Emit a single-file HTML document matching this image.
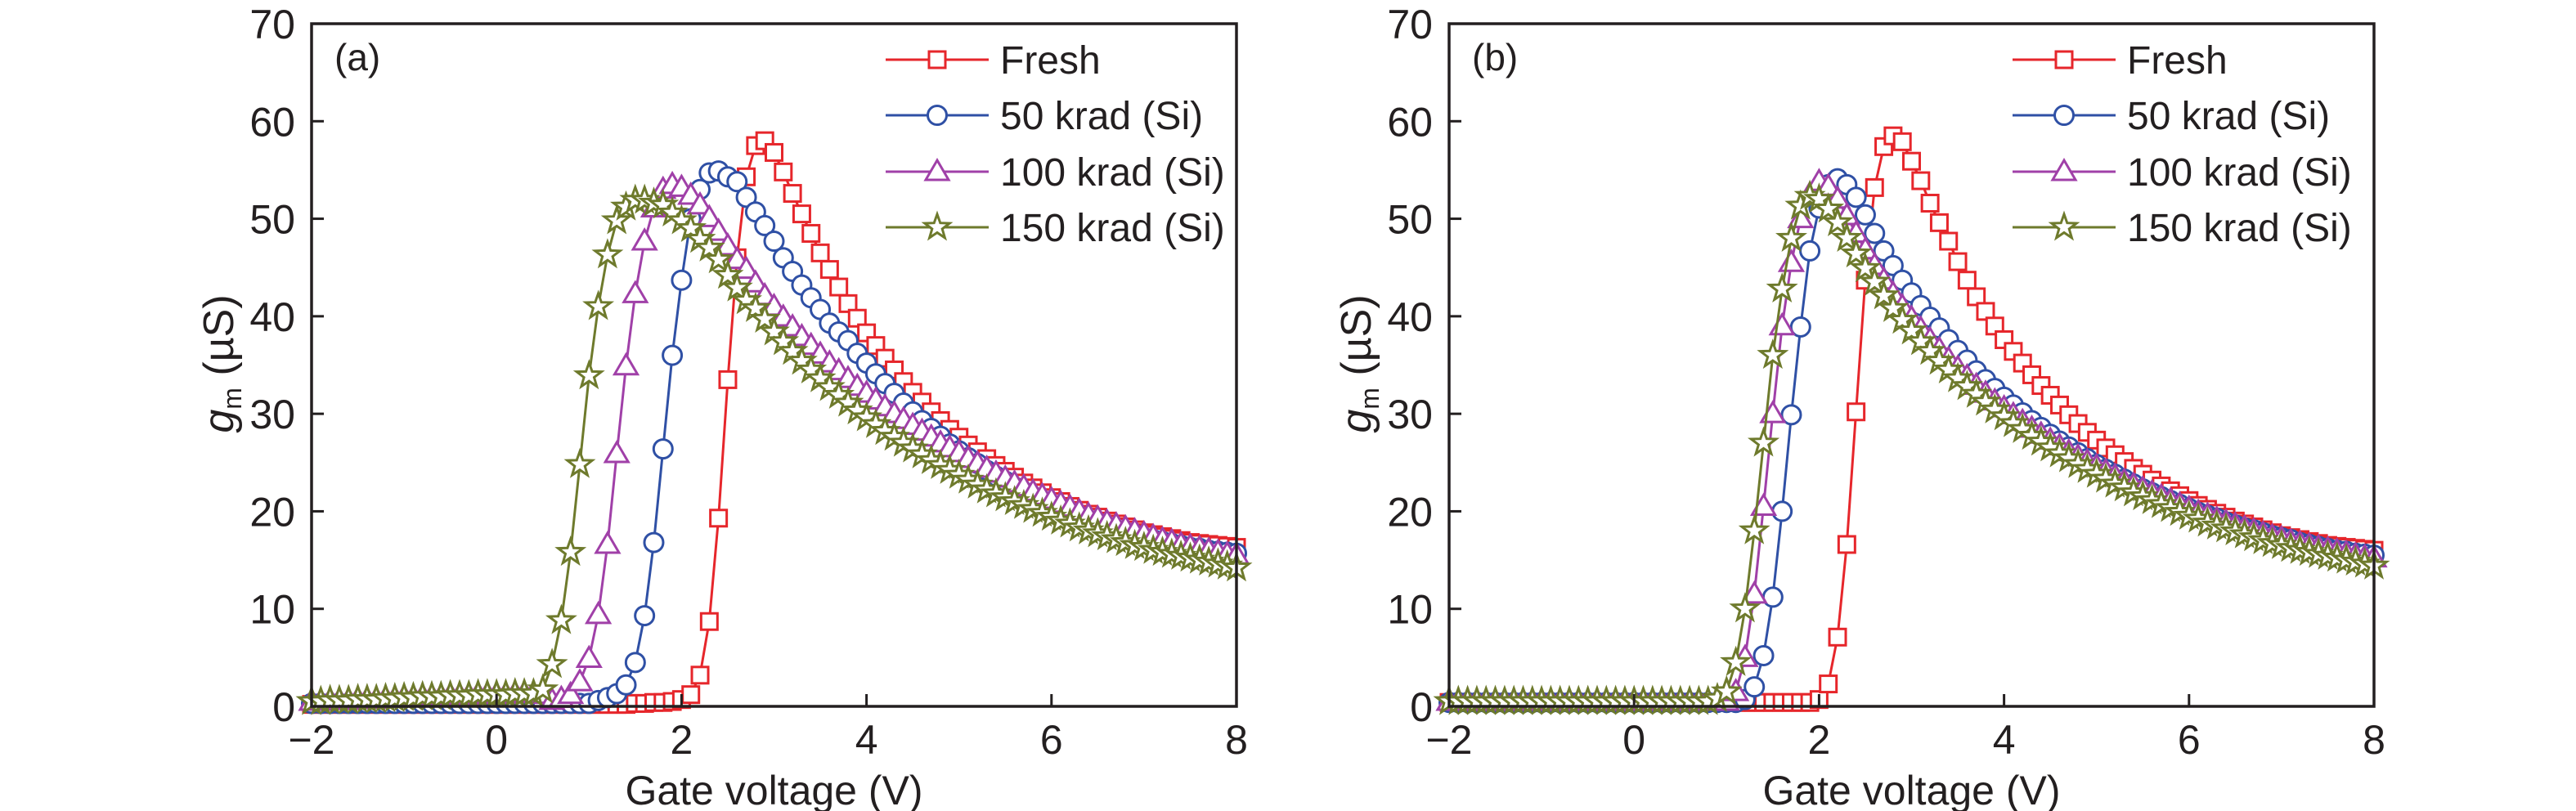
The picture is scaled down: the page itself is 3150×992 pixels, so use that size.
<!DOCTYPE html>
<html><head><meta charset="utf-8"><style>
html,body{margin:0;padding:0;background:#fff;}
svg{display:block;font-family:"Liberation Sans",sans-serif;}
</style></head><body>
<svg id="chart" width="3150" height="992" viewBox="0 0 3150 992" xmlns="http://www.w3.org/2000/svg"></svg>
<script>
const xTicks=[-2,0,2,4,6,8];
const yTicks=[0,10,20,30,40,50,60,70];
const seriesNames=["Fresh","50 krad (Si)","100 krad (Si)","150 krad (Si)"];
const TAIL_F=[37.0,35.7,34.5,33.3,32.2,31.2,30.2,29.3,28.4,27.6,26.8,26.1,25.4,24.7,24.1,23.5,22.9,22.4,21.9,21.4,21.0,20.5,20.1,19.7,19.4,19.0,18.7,18.4,18.1,17.8,17.6,17.4,17.2,17.0,16.8,16.7,16.6,16.5,16.4,16.3];
const freshA=[0.2,0.2,0.2,0.2,0.2,0.2,0.2,0.2,0.2,0.2,0.2,0.2,0.2,0.2,0.2,0.2,0.2,0.2,0.2,0.2,0.2,0.2,0.2,0.2,0.2,0.2,0.2,0.2,0.2,0.2,0.2,0.2,0.2,0.2,0.2,
0.3,0.3,0.4,0.4,0.5,0.7,1.2,3.2,8.7,19.3,33.5,46,54.3,57.5,58.0,56.8,54.8,52.6,50.5,48.5,46.5,44.8,43.0,41.3,39.8,38.3,
37.0,35.7,34.5,33.3,32.2,31.2,30.2,29.3,28.4,27.6,26.8,26.1,25.4,24.7,24.1,23.5,22.9,22.4,21.9,21.4,21.0,20.5,20.1,19.7,19.4,19.0,18.7,18.4,18.1,17.8,17.6,17.4,17.2,17.0,16.8,16.7,16.6,16.5,16.4,16.3];
const k50A=[0.3,0.3,0.3,0.3,0.3,0.3,0.3,0.3,0.3,0.3,0.3,0.3,0.3,0.3,0.3,0.3,0.3,0.3,0.3,0.3,0.3,0.3,0.3,0.3,0.3,0.3,0.3,0.3,0.3,0.3,0.3,0.6,0.9,1.3,
2.2,4.5,9.3,16.8,26.4,36,43.7,50,53,54.7,54.9,54.3,53.8,52.2,50.7,49.3,47.7,46.0,44.6,43.2,41.9,40.7,39.3,38.4,37.5,36.2,35.2,
34.1,33.1,32.1,31.1,30.2,29.3,28.5,27.7,26.9,26.2,25.5,24.9,24.2,23.6,23.1,22.5,22.0,21.5,21.1,20.6,20.2,19.8,19.4,19.1,18.7,18.4,18.1,17.8,17.6,17.3,17.1,16.9,16.7,16.5,16.3,16.2,16.0,15.9,15.8,15.7];
const k100A=[0.5,0.5,0.6,0.6,0.6,0.7,0.7,0.7,0.8,0.8,
0.9,0.9,1.0,1.0,1.0,1.1,1.1,1.1,1.2,1.2,1.2,1.2,1.3,1.3,1.3,1.2,0.6,0.8,1.2,
2.5,4.9,9.4,16.6,25.9,34.9,42.3,47.7,51.1,53,53.5,53.2,52.4,51.4,50.1,48.7,47.2,45.8,44.8,43.4,42.1,41.0,
39.9,38.9,37.9,37.0,36.1,35.2,34.4,33.6,32.8,32.1,
31.4,30.7,30.0,29.4,28.8,28.2,27.6,27.0,26.5,26.0,25.4,24.9,24.4,23.9,23.4,22.9,22.5,22.0,21.6,21.2,20.8,20.4,20.0,19.6,19.3,18.9,18.6,18.3,18.0,17.7,17.4,17.1,16.9,16.6,16.4,16.2,16.0,15.8,15.6,15.5];
const k150A=[0.5,0.5,0.6,0.6,0.6,0.7,0.7,0.7,0.8,0.8,
0.9,0.9,1.0,1.0,1.0,1.1,1.1,1.1,1.2,1.2,1.2,1.2,1.3,1.3,1.3,
1.7,4.3,8.8,15.8,24.8,33.9,41.0,46.3,49.8,51.2,51.9,51.9,51.6,51.4,50.6,49.8,49.0,47.9,47.0,45.8,44.2,42.9,41.6,40.8,39.7,38.4,
37.4,36.4,35.4,34.5,33.6,32.7,31.9,31.1,30.3,29.6,
28.9,28.2,27.6,27.0,26.4,25.8,25.2,24.7,24.2,23.7,23.2,22.7,22.2,21.8,21.4,21.0,20.6,20.2,19.8,19.4,19.0,18.7,18.3,18.0,17.7,17.4,17.1,16.8,16.5,16.3,16.0,15.8,15.6,15.4,15.2,15.0,14.8,14.6,14.4,14.2];
const freshB=[0.4,0.4,0.4,0.4,0.4,0.4,0.4,0.4,0.4,0.4,0.4,0.4,0.4,0.4,0.4,0.4,0.4,0.4,0.4,0.4,0.4,0.4,0.4,0.4,0.4,0.4,0.4,0.4,0.4,0.4,0.4,0.4,0.4,0.4,0.4,0.4,0.4,0.4,0.4,0.4,
0.7,2.3,7.1,16.6,30.2,43.7,53.2,57.4,58.5,57.9,55.9,53.9,51.6,49.6,47.7,45.6,43.7,42.0,40.5,39.0,37.6,
36.4,35.2,34.0,32.9,31.9,30.9,29.9,29.0,28.1,27.3,26.5,25.8,25.1,24.4,23.8,23.2,22.6,22.1,21.6,21.1,20.6,20.2,19.8,19.4,19.0,18.7,18.4,18.1,17.8,17.5,17.3,17.1,16.9,16.7,16.5,16.4,16.3,16.2,16.1,16.0];
const k50B=[0.4,0.4,0.4,0.4,0.4,0.4,0.4,0.4,0.4,0.4,0.4,0.4,0.4,0.4,0.4,0.4,0.4,0.4,0.4,0.4,0.4,0.4,0.4,0.4,0.4,0.4,0.4,0.4,0.4,0.4,0.4,0.4,
0.7,2.0,5.2,11.2,20.0,29.9,38.9,46.7,51.1,53.5,54.1,53.5,52.2,50.4,48.5,46.7,45.2,43.7,42.4,
41.1,39.9,38.8,37.6,36.5,35.5,34.4,33.5,32.6,31.7,
30.9,30.1,29.3,28.6,27.9,27.2,26.6,26.0,25.4,24.8,24.3,23.8,23.3,22.8,22.3,21.9,21.5,21.1,20.7,20.3,19.9,19.6,19.3,18.9,18.6,18.3,18.1,17.8,17.5,17.3,17.1,16.8,16.6,16.4,16.2,16.0,15.9,15.7,15.6,15.5];
const k100B=[0.5,0.5,0.5,0.5,0.5,0.5,0.5,0.5,0.5,0.5,0.5,0.5,0.5,0.5,0.5,0.5,0.5,0.5,0.5,0.5,0.5,0.5,0.5,0.5,0.5,0.5,0.5,0.5,0.5,0.5,
0.5,1.5,5.0,11.5,20.5,30.0,39.0,45.5,50.0,52.5,53.8,53.3,52.0,50.3,48.5,46.8,45.2,43.7,42.3,41.0,39.8,38.7,37.6,36.6,35.6,34.7,33.8,32.9,32.1,31.3,30.6,
29.9,29.2,28.5,27.9,27.3,26.7,26.1,25.6,25.1,24.6,24.1,23.6,23.1,22.7,22.3,21.9,21.5,21.1,20.7,20.3,19.9,19.6,19.2,18.9,18.6,18.3,18.0,17.7,17.4,17.2,16.9,16.7,16.5,16.3,16.1,15.9,15.7,15.5,15.3,15.2];
const k150B=[0.5,0.5,0.5,0.5,0.5,0.5,0.5,0.5,0.5,0.5,0.5,0.5,0.5,0.5,0.5,0.5,0.5,0.5,0.5,0.5,0.5,0.5,0.5,0.5,0.5,0.5,0.5,0.5,0.5,
0.8,1.5,4.5,10.0,18.0,27.0,36.0,42.8,48.0,51.3,52.3,52.0,51.0,49.6,48.0,46.4,44.9,43.5,42.1,40.8,39.6,38.5,37.4,36.4,35.4,34.5,33.6,32.8,32.0,31.2,30.4,29.7,
29.0,28.4,27.7,27.1,26.5,25.9,25.4,24.8,24.3,23.8,23.3,22.8,22.4,21.9,21.5,21.1,20.7,20.3,19.9,19.5,19.2,18.8,18.5,18.2,17.9,17.6,17.3,17.0,16.7,16.5,16.2,16.0,15.8,15.6,15.4,15.2,15.0,14.8,14.6,14.4];

const NS="http://www.w3.org/2000/svg";
const svg=document.getElementById('chart');
const colors=["#e6262b","#2f50a5","#a040a8","#6e7a2c"];
const shapes=["square","circle","triangle","star"];
function mk(tag,attrs,parent){const e=document.createElementNS(NS,tag);for(const k in attrs)e.setAttribute(k,attrs[k]);(parent||svg).appendChild(e);return e;}
function marker(shape,cx,cy,color,g){
  let e;
  if(shape==="square"){e=mk('rect',{x:cx-10,y:cy-10,width:20,height:20,fill:'#fff',stroke:color,'stroke-width':3},g);}
  else if(shape==="circle"){e=mk('circle',{cx:cx,cy:cy,r:11.5,fill:'#fff',stroke:color,'stroke-width':3},g);}
  else if(shape==="triangle"){e=mk('polygon',{points:(cx)+','+(cy-14)+' '+(cx-14)+','+(cy+10)+' '+(cx+14)+','+(cy+10),fill:'#fff',stroke:color,'stroke-width':3},g);}
  else {let p=[];for(let k=0;k<10;k++){const r=k%2?6.5:16;const a=-Math.PI/2+k*Math.PI/5;p.push((cx+r*Math.cos(a)).toFixed(1)+','+(cy+r*Math.sin(a)).toFixed(1));}
    e=mk('polygon',{points:p.join(' '),fill:'#fff',stroke:color,'stroke-width':3,'stroke-linejoin':'miter'},g);}
  return e;
}
function panel(id,left,right,top,bottom,label,data,legX,yLabX){
  const g=mk('g',{});
  
  
  const xs=v=>left+(v+2)/10*(right-left);
  const ys=v=>bottom-v/70*(bottom-top);
  // series
  data.forEach((arr,si)=>{
    const sg=mk('g',{},g);
    
    
    const pts=arr.map((v,i)=>xs(-2+i*0.1).toFixed(1)+','+ys(v).toFixed(1)).join(' ');
    const pl=mk('polyline',{points:pts,fill:'none',stroke:colors[si],'stroke-width':3},sg);
    
    
    arr.forEach((v,i)=>{const m=marker(shapes[si],xs(-2+i*0.1),ys(v),colors[si],sg);
      
      });
  });
  // frame
  const fr=mk('rect',{x:left,y:top,width:right-left,height:bottom-top,fill:'none',stroke:'#231f20','stroke-width':3.5},g);
  
  
  xTicks.forEach(t=>{
    mk('line',{x1:xs(t),x2:xs(t),y1:bottom,y2:bottom-15,stroke:'#231f20','stroke-width':3},g);
    const tx=mk('text',{x:xs(t),y:bottom+58,'font-size':50,'text-anchor':'middle',fill:'#231f20'},g);
    tx.textContent=(t<0?'\u2212'+(-t):String(t));
    
    
  });
  yTicks.forEach(t=>{
    mk('line',{x1:left,x2:left+15,y1:ys(t),y2:ys(t),stroke:'#231f20','stroke-width':3},g);
    const tx=mk('text',{x:left-20,y:ys(t)+18,'font-size':50,'text-anchor':'end',fill:'#231f20'},g);
    tx.textContent=String(t);
    
    
  });
  const xl=mk('text',{x:(left+right)/2,y:984,'font-size':50,'text-anchor':'middle',fill:'#231f20'},g);
  xl.textContent='Gate voltage (V)';
  
  
  const yl=mk('text',{x:0,y:0,'font-size':52,'text-anchor':'middle',fill:'#231f20',transform:'translate('+(yLabX)+',445) rotate(-90)'},g);
  yl.innerHTML='<tspan font-style="italic">g</tspan><tspan font-size="32" dy="10">m</tspan><tspan dy="-10"> (\u00b5S)</tspan>';
  
  
  const pl=mk('text',{x:left+28,y:86,'font-size':46,fill:'#231f20'},g);
  pl.textContent=label;
  
  
  // legend
  const rows=[73,141,210,278];
  seriesNames.forEach((n,si)=>{
    const lg=mk('g',{},g);
    
    
    mk('line',{x1:legX,x2:legX+126,y1:rows[si],y2:rows[si],stroke:colors[si],'stroke-width':3},lg);
    marker(shapes[si],legX+63,rows[si],colors[si],lg);
    const t=mk('text',{x:legX+140,y:rows[si]+17,'font-size':48,fill:'#231f20'},lg);
    t.textContent=n;
  });
}
panel('a',381,1512,29,864,'(a)',[freshA,k50A,k100A,k150A],1083,285);
panel('b',1772,2903,29,864,'(b)',[freshB,k50B,k100B,k150B],2461,1676);
</script>
</body></html>
